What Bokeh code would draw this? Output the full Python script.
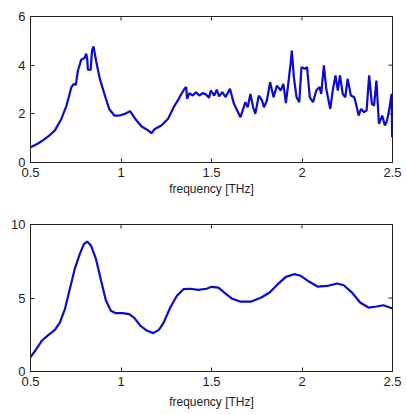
import math
from bokeh.plotting import figure
from bokeh.layouts import column
from bokeh.models import FixedTicker, Range1d, CustomJSTickFormatter
from bokeh.embed import file_html
from bokeh.resources import INLINE

# ---- data ----
freq_top = [0.500, 0.520, 0.544, 0.570, 0.598, 0.635, 0.671, 0.699, 0.726, 0.739,
            0.750, 0.762, 0.780, 0.799, 0.808, 0.814, 0.817, 0.832, 0.840, 0.848,
            0.862, 0.881, 0.908, 0.935, 0.963, 0.986, 1.000, 1.023, 1.050, 1.078,
            1.114, 1.150, 1.168, 1.187, 1.223, 1.260, 1.296, 1.314, 1.332, 1.351,
            1.360, 1.365, 1.378, 1.396, 1.414, 1.433, 1.451, 1.469, 1.487, 1.496,
            1.515, 1.529, 1.542, 1.560, 1.578, 1.602, 1.624, 1.642, 1.660, 1.675,
            1.687, 1.700, 1.715, 1.730, 1.742, 1.761, 1.779, 1.790, 1.806, 1.824,
            1.843, 1.861, 1.883, 1.897, 1.911, 1.924, 1.937, 1.944, 1.955, 1.970,
            1.985, 1.997, 2.015, 2.028, 2.043, 2.061, 2.079, 2.097, 2.106, 2.121,
            2.134, 2.156, 2.170, 2.185, 2.198, 2.210, 2.225, 2.239, 2.252, 2.270,
            2.289, 2.298, 2.313, 2.326, 2.343, 2.357, 2.371, 2.386, 2.398, 2.411,
            2.425, 2.443, 2.458, 2.470, 2.484, 2.495, 2.498]
amp_top = [0.63, 0.70, 0.79, 0.92, 1.07, 1.32, 1.80, 2.34, 3.10, 3.23,
           3.18, 3.78, 4.22, 4.30, 4.47, 4.20, 3.82, 3.80, 4.60, 4.77,
           4.19, 3.50, 2.82, 2.20, 1.93, 1.93, 1.95, 2.00, 2.11, 1.80,
           1.48, 1.32, 1.20, 1.38, 1.52, 1.80, 2.34, 2.55, 2.80, 3.03,
           3.10, 2.62, 2.85, 2.75, 2.89, 2.75, 2.85, 2.80, 2.66, 2.96,
           2.75, 2.99, 2.72, 2.89, 2.69, 3.03, 2.41, 2.14, 1.86, 2.20,
           2.48, 2.27, 2.82, 2.27, 2.00, 2.75, 2.55, 2.27, 2.55, 3.30,
           2.68, 3.16, 2.96, 3.23, 2.44, 3.23, 4.06, 4.60, 3.51, 2.68,
           2.48, 3.92, 3.85, 3.92, 2.68, 2.48, 2.96, 3.10, 2.82, 3.99,
           3.03, 2.20, 2.96, 3.58, 2.96, 3.58, 2.82, 2.68, 3.44, 2.75,
           2.68, 2.41, 1.93, 2.20, 2.07, 2.14, 3.58, 2.41, 2.34, 3.37,
           1.59, 1.93, 1.52, 1.73, 2.27, 2.82, 1.04]

freq_bot = [0.498, 0.526, 0.562, 0.598, 0.635, 0.662, 0.690, 0.717, 0.744, 0.772,
            0.795, 0.813, 0.835, 0.862, 0.890, 0.917, 0.944, 0.972, 1.008, 1.045,
            1.072, 1.108, 1.145, 1.178, 1.209, 1.236, 1.272, 1.309, 1.345, 1.382,
            1.427, 1.473, 1.500, 1.538, 1.575, 1.611, 1.657, 1.720, 1.775, 1.821,
            1.866, 1.911, 1.957, 1.993, 2.039, 2.085, 2.139, 2.194, 2.231, 2.276,
            2.321, 2.367, 2.413, 2.449, 2.500]
amp_bot = [0.95, 1.41, 2.09, 2.47, 2.83, 3.33, 4.24, 5.60, 6.96, 7.98,
           8.66, 8.84, 8.55, 7.64, 6.17, 4.81, 4.13, 3.97, 3.97, 3.90,
           3.67, 3.10, 2.77, 2.61, 2.83, 3.33, 4.35, 5.15, 5.60, 5.63,
           5.55, 5.63, 5.76, 5.71, 5.33, 4.97, 4.76, 4.76, 5.03, 5.37,
           5.94, 6.44, 6.62, 6.51, 6.12, 5.78, 5.82, 5.99, 5.87, 5.37,
           4.69, 4.35, 4.42, 4.51, 4.29]

x_ticks = [0.5, 1, 1.5, 2, 2.5]
y_ticks_top = [0, 2, 4, 6]
y_ticks_bot = [0, 5, 10]
x_label = "frequency [THz]"

LINE_COLOR = "#0a0ad2"
AX_COLOR = "#222222"
FONT = "Liberation Sans"


def style_axis(ax, ticks, label=None, label_standoff=2):
    ax.ticker = FixedTicker(ticks=ticks)
    ax.formatter = CustomJSTickFormatter(code="return tick.toString()")
    ax.minor_tick_line_color = None
    ax.major_tick_in = 4
    ax.major_tick_out = 0
    ax.major_tick_line_color = AX_COLOR
    ax.axis_line_color = AX_COLOR
    ax.major_label_text_font = FONT
    ax.major_label_text_font_size = "13px"
    ax.major_label_text_color = AX_COLOR
    ax.major_label_standoff = 5
    if label:
        ax.axis_label = label
        ax.axis_label_text_font = FONT
        ax.axis_label_text_font_size = "12px"
        ax.axis_label_text_font_style = "normal"
        ax.axis_label_text_color = AX_COLOR
        ax.axis_label_standoff = label_standoff


def make_fig(xs, ys, ymax, yticks, w, h, left, right, top, bottom, lab_off):
    p = figure(width=w, height=h, output_backend="svg", toolbar_location=None,
               x_range=Range1d(0.5, 2.5), y_range=Range1d(0, ymax),
               min_border_left=left, min_border_right=right,
               min_border_top=top, min_border_bottom=bottom)
    p.xgrid.visible = False
    p.ygrid.visible = False
    p.outline_line_color = AX_COLOR
    p.background_fill_color = "white"
    p.border_fill_color = "white"
    style_axis(p.xaxis[0], x_ticks, x_label, lab_off)
    style_axis(p.yaxis[0], yticks)
    # MATLAB-style inward ticks on the top and right edges
    p.scatter(x_ticks, [ymax] * len(x_ticks), marker="dash", angle=math.pi / 2,
              size=8, line_color=AX_COLOR, line_width=1)
    p.scatter([2.5] * len(yticks), yticks, marker="dash",
              size=8, line_color=AX_COLOR, line_width=1)
    p.line(xs, ys, line_color=LINE_COLOR, line_width=2.2)
    return p


p1 = make_fig(freq_top, amp_top, 6, y_ticks_top, 406, 208, 26, 14, 16, 46, 2)
p2 = make_fig(freq_bot, amp_bot, 10, y_ticks_bot, 406, 206, 30, 10, 16, 43, 6)

layout = column(p1, p2)
open("out.html", "w").write(file_html(layout, INLINE))
